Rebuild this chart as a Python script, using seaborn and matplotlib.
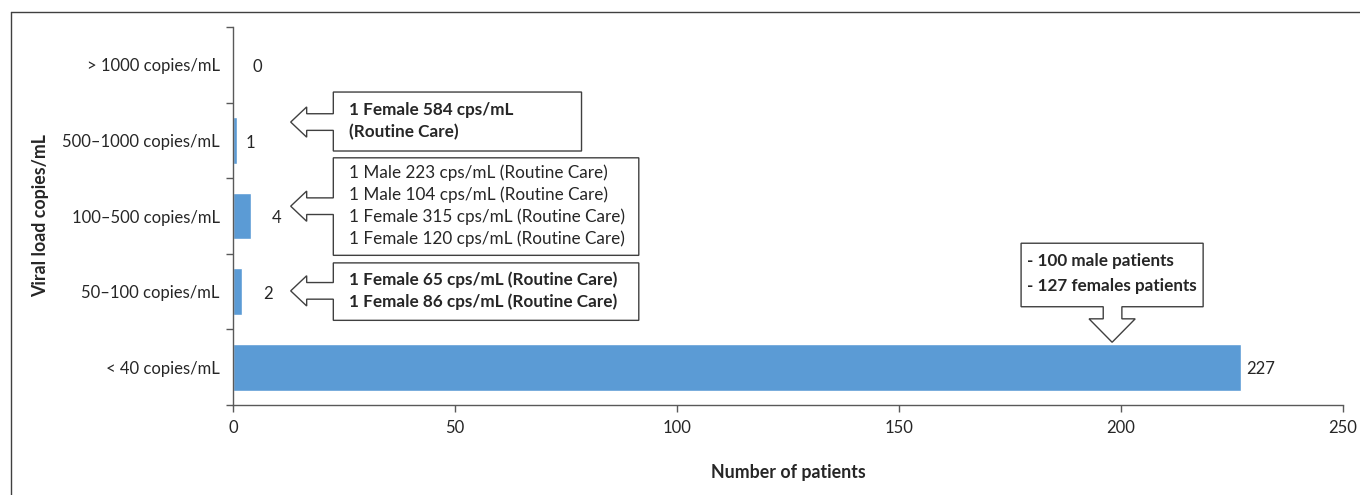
import pandas as pd
import seaborn as sns
import matplotlib.pyplot as plt
from matplotlib.patches import Polygon
from matplotlib.lines import Line2D

# data
categories = ['> 1000 copies/mL', '500–1000 copies/mL', '100–500 copies/mL',
              '50–100 copies/mL', '< 40 copies/mL']
counts = [0, 1, 4, 2, 227]
label_pad = [4.5, 1.9, 4.8, 4.8, 1.1]   # gap between bar end and its number

note_500 = '1 Female 584 cps/mL\n(Routine Care)'
note_100 = ('1 Male 223 cps/mL (Routine Care)\n1 Male 104 cps/mL (Routine Care)\n'
            '1 Female 315 cps/mL (Routine Care)\n1 Female 120 cps/mL (Routine Care)')
note_50 = '1 Female 65 cps/mL (Routine Care)\n1 Female 86 cps/mL (Routine Care)'
note_40 = '- 100 male patients\n- 127 females patients'

sns.set_style('white')
plt.rcParams['font.family'] = ['Lato', 'DejaVu Sans']
plt.rcParams['text.color'] = '#262626'

df = pd.DataFrame({'category': categories, 'count': counts})

fig = plt.figure(figsize=(13.6, 4.95), dpi=100)
ax = fig.add_axes([0.1713, 0.1818, 0.8162, 0.7636])

sns.barplot(data=df, y='category', x='count', orient='h', color='#5B9BD5',
            saturation=1, width=0.62, ax=ax)

ax.set_xlim(0, 250)
ax.set_ylim(4.5, -0.5)
ax.set_xticks(range(0, 251, 50))

# category ticks sit on the boundaries, labels in the middle
ax.set_yticks(range(len(categories)))
ax.set_yticklabels(categories)
ax.set_yticks([i - 0.5 for i in range(len(categories) + 1)], minor=True)
ax.tick_params(axis='y', which='major', length=0, pad=9.5, labelsize=12, labelcolor='#262626')
ax.tick_params(axis='y', which='minor', length=5, width=1, color='#595959', left=True)
ax.tick_params(axis='x', length=5, width=1, color='#595959', bottom=True,
               labelsize=12, labelcolor='#262626', pad=6)

for s in ['top', 'right']:
    ax.spines[s].set_visible(False)
for s in ['left', 'bottom']:
    ax.spines[s].set_color('#595959')
    ax.spines[s].set_linewidth(1)

ax.set_xlabel('Number of patients', fontsize=12.8, fontweight='bold')
ax.set_ylabel('Viral load copies/mL', fontsize=12.8, fontweight='bold')
ax.xaxis.set_label_coords(0.5, -0.155)
ax.yaxis.set_label_coords(-0.166, 0.5)

# value labels
for i, (c, p) in enumerate(zip(counts, label_pad)):
    ax.text(c + p, i + 0.03, str(c), va='center', ha='left', fontsize=12)


def left_callout(x0, x1, y0, y1, yc):
    sh, hh = 0.11, 0.2
    hb, tip = 16.6, 13.0
    pts = [(x0, y0), (x1, y0), (x1, y1), (x0, y1), (x0, yc + sh), (hb, yc + sh),
           (hb, yc + hh), (tip, yc), (hb, yc - hh), (hb, yc - sh), (x0, yc - sh)]
    ax.add_patch(Polygon(pts, closed=True, fc='white', ec='#404040', lw=1, clip_on=False))


left_callout(22.6, 78.5, 0.36, 1.14, 0.757)
left_callout(22.6, 91.4, 1.23, 2.52, 1.87)
left_callout(22.6, 91.4, 2.62, 3.38, 2.99)

# downward arrow box over the big bar
down = [(177.5, 2.36), (218.5, 2.36), (218.5, 3.20), (200.2, 3.20), (200.2, 3.36),
        (203.2, 3.36), (198.0, 3.67), (192.8, 3.36), (196.0, 3.36), (196.0, 3.20),
        (177.5, 3.20)]
ax.add_patch(Polygon(down, closed=True, fc='white', ec='#404040', lw=1, clip_on=False))

ax.text(26.2, 0.745, note_500, va='center', ha='left', fontsize=12.3,
        fontweight='bold', linespacing=1.4)
ax.text(26.2, 1.865, note_100, va='center', ha='left', fontsize=12.3, linespacing=1.4)
ax.text(26.2, 2.985, note_50, va='center', ha='left', fontsize=12.3,
        fontweight='bold', linespacing=1.4)
ax.text(178.9, 2.76, note_40, va='center', ha='left', fontsize=12.3,
        fontweight='bold', linespacing=1.75)

# frame around the figure (only top and left edges visible in the crop)
fig.add_artist(Line2D([0.0081, 0.0081], [0, 0.976], color='#404040', lw=1))
fig.add_artist(Line2D([0.0081, 1], [0.976, 0.976], color='#404040', lw=1))

fig.savefig('out.png', dpi=100)
